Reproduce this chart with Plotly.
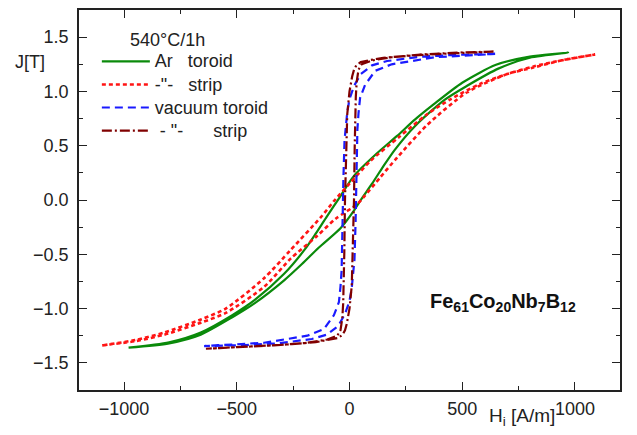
import plotly.graph_objects as go

# Ar toroid (green): descending branch then ascending branch
ar_tor_h_down = [970, 800, 650, 500, 373, 290, 211, 122, 19, -45, -100, -150, -200, -290, -420, -520, -660, -800, -980]
ar_tor_j_down = [1.357, 1.32, 1.245, 1.08, 0.88, 0.74, 0.59, 0.43, 0.22, 0.02, -0.15, -0.31, -0.46, -0.68, -0.92, -1.06, -1.22, -1.31, -1.36]
ar_tor_h_up = [-980, -800, -660, -520, -420, -290, -211, -137, -40, 19, 50, 100, 150, 200, 290, 420, 520, 660, 800, 970]
ar_tor_j_up = [-1.36, -1.32, -1.24, -1.08, -0.95, -0.74, -0.59, -0.44, -0.26, -0.10, 0.0, 0.15, 0.31, 0.46, 0.68, 0.92, 1.05, 1.21, 1.31, 1.357]

# Ar strip (red dotted)
ar_str_h_down = [1090, 950, 816, 700, 580, 450, 344, 220, 93, 0, -65, -128, -261, -379, -549, -659, -821, -950, -1100]
ar_str_j_down = [1.34, 1.29, 1.23, 1.16, 1.07, 0.93, 0.79, 0.58, 0.36, 0.15, 0.0, -0.16, -0.46, -0.72, -1.00, -1.10, -1.22, -1.29, -1.34]
ar_str_h_up = [-1100, -950, -821, -659, -549, -379, -261, -143, -60, 34, 60, 137, 211, 344, 520, 700, 816, 950, 1090]
ar_str_j_up = [-1.34, -1.30, -1.24, -1.13, -1.04, -0.80, -0.54, -0.33, -0.17, -0.04, 0.02, 0.21, 0.39, 0.69, 0.99, 1.16, 1.22, 1.29, 1.34]

# vacuum toroid (blue dashed)
vac_tor_h_down = [646, 460, 314, 167, 100, 50, 20, 0, -10, -22, -27, -29, -31, -35, -40, -47, -69, -114, -187, -379, -645]
vac_tor_j_down = [1.345, 1.336, 1.32, 1.28, 1.24, 1.16, 1.05, 0.93, 0.81, 0.55, 0.2, -0.1, -0.45, -0.65, -0.8, -0.94, -1.06, -1.19, -1.25, -1.315, -1.345]
vac_tor_h_up = [-645, -460, -314, -167, -100, -50, -20, 0, 10, 22, 27, 29, 31, 35, 40, 47, 69, 114, 187, 379, 646]
vac_tor_j_up = [-1.345, -1.336, -1.32, -1.28, -1.24, -1.16, -1.05, -0.93, -0.81, -0.55, -0.2, 0.1, 0.45, 0.65, 0.8, 0.94, 1.06, 1.19, 1.25, 1.315, 1.345]

# vacuum strip (dark red dash-dot)
vac_str_h_down = [639, 505, 314, 150, 93, 50, 30, 20, 12, 0, -10, -16, -20, -23, -25, -28, -32, -40, -54, -99, -187, -305, -450, -637]
vac_str_j_down = [1.366, 1.36, 1.34, 1.31, 1.29, 1.27, 1.24, 1.20, 1.14, 1.0, 0.79, 0.4, 0.0, -0.48, -0.78, -0.95, -1.09, -1.2, -1.25, -1.285, -1.315, -1.335, -1.35, -1.37]
vac_str_h_up = [-637, -450, -305, -150, -93, -50, -30, -20, -12, 0, 10, 16, 20, 23, 25, 28, 32, 40, 54, 99, 187, 305, 450, 639]
vac_str_j_up = [-1.37, -1.35, -1.335, -1.31, -1.29, -1.27, -1.24, -1.20, -1.14, -1.0, -0.79, -0.4, 0.0, 0.48, 0.78, 0.95, 1.09, 1.2, 1.25, 1.285, 1.315, 1.335, 1.35, 1.366]

names = ["Ar   toroid", '-"-   strip', "vacuum toroid", ' - "-      strip']
colors = ["#0a8a0a", "#ff1414", "#1a1aff", "#800000"]
dashes = ["solid", "4px,3px", "8px,5px", "10px,3px,2px,3px"]
widths = [2.2, 2.6, 2.2, 2.2]

loops = [
    (ar_tor_h_down + ar_tor_h_up, ar_tor_j_down + ar_tor_j_up, "spline"),
    (ar_str_h_down + ar_str_h_up, ar_str_j_down + ar_str_j_up, "spline"),
    (vac_tor_h_down + vac_tor_h_up, vac_tor_j_down + vac_tor_j_up, "linear"),
    (vac_str_h_down + vac_str_h_up, vac_str_j_down + vac_str_j_up, "linear"),
]

fig = go.Figure()
for (h, j, shape), name, c, d, w in zip(loops, names, colors, dashes, widths):
    fig.add_trace(go.Scatter(x=h, y=j, mode="lines",
                             name='<span style="font-size:18px">' + name + '</span>',
                             line=dict(color=c, width=w, dash=d, shape=shape, smoothing=0.7)))

axis_common = dict(showline=True, linecolor="#222", linewidth=1.6, mirror="ticks",
                   ticks="inside", ticklen=8, tickwidth=1.3, tickcolor="#222",
                   showgrid=False, zeroline=False,
                   tickfont=dict(family="Liberation Sans, Arial", size=18, color="#222"))

fig.update_xaxes(range=[-1200, 1200], tickvals=[-1000, -500, 0, 500, 1000],
                 minor=dict(tickvals=[-750, -250, 250, 750], ticklen=4, ticks="inside", tickcolor="#222"),
                 ticklabelstandoff=2, **axis_common)
fig.update_yaxes(range=[-1.75, 1.75], tickvals=[-1.5, -1.0, -0.5, 0.0, 0.5, 1.0, 1.5],
                 tickformat=".1f",
                 minor=dict(tickvals=[-1.25, -0.75, -0.25, 0.25, 0.75, 1.25], ticklen=4, ticks="inside", tickcolor="#222"),
                 ticklabelstandoff=5, **axis_common)

fig.add_annotation(text="540°C/1h", xref="paper", yref="paper", x=0.0906, y=0.921,
                   xanchor="left", yanchor="middle",
                   showarrow=False, font=dict(size=18, color="#222"))
fig.add_annotation(text="J[T]", xref="paper", yref="paper", x=-0.0906, y=0.864,
                   xanchor="center", yanchor="middle",
                   showarrow=False, font=dict(size=18, color="#222"))
fig.add_annotation(text="H<sub>i</sub> [A/m]", xref="paper", yref="paper", x=0.819, y=-0.071,
                   xanchor="center", yanchor="middle",
                   showarrow=False, font=dict(size=19, color="#222"))
fig.add_annotation(text="<b>Fe<sub>61</sub>Co<sub>20</sub>Nb<sub>7</sub>B<sub>12</sub></b>",
                   xref="paper", yref="paper", x=0.784, y=0.230,
                   xanchor="center", yanchor="middle",
                   showarrow=False, font=dict(size=20, color="#111"))

fig.update_layout(
    width=629, height=427,
    margin=dict(l=71, r=17, t=0, b=45),
    paper_bgcolor="white", plot_bgcolor="white",
    font=dict(family="Liberation Sans, Arial", color="#222"),
    showlegend=True,
    legend=dict(x=0.033, y=0.908, xanchor="left", yanchor="top", bgcolor="rgba(0,0,0,0)",
                font=dict(size=15.4, color="#222"), itemwidth=48, tracegroupgap=0),
)

fig.write_html("out.html")
